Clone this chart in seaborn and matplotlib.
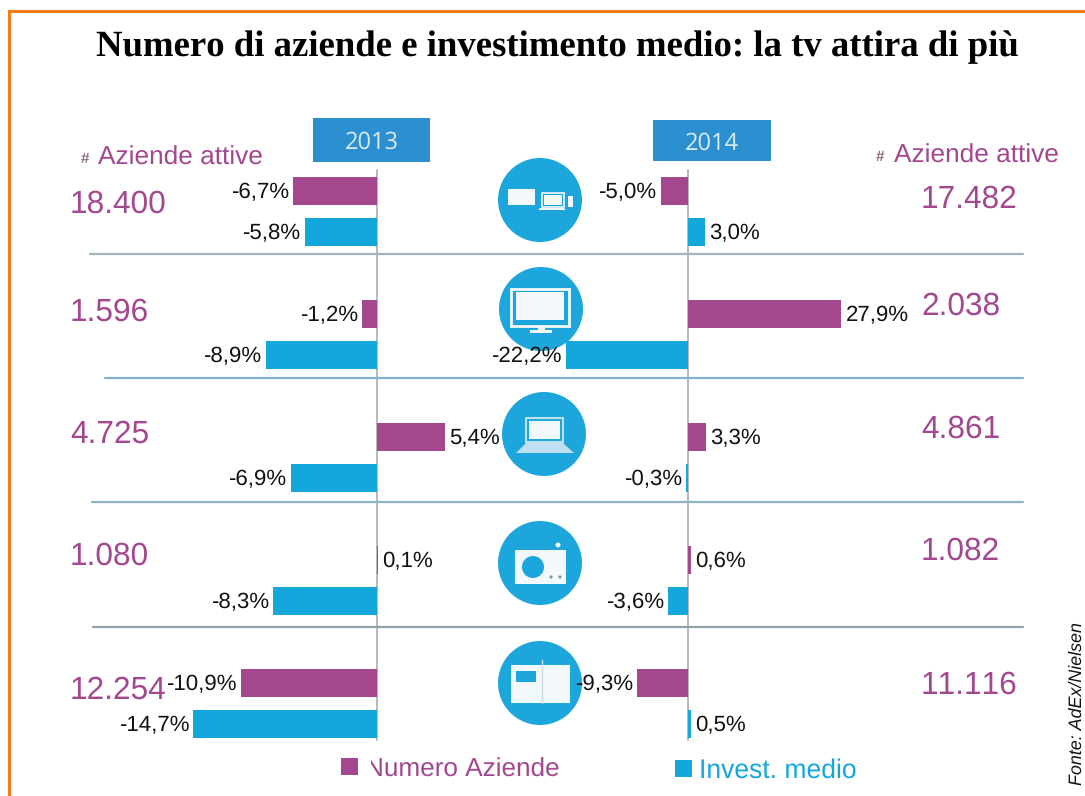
import pandas as pd
import seaborn as sns
from matplotlib import pyplot as plt
from matplotlib.patches import Circle, Rectangle, Polygon

# data
mezzi = ['Internet', 'Tv', 'Pc', 'Radio', 'Stampa']
numero_2013 = [-6.7, -1.2, 5.4, 0.1, -10.9]
invest_2013 = [-5.8, -8.9, -6.9, -8.3, -14.7]
numero_2014 = [-5.0, 27.9, 3.3, 0.6, -9.3]
invest_2014 = [3.0, -22.2, -0.3, -3.6, 0.5]
aziende_2013 = ['18.400', '1.596', '4.725', '1.080', '12.254']
aziende_2014 = ['17.482', '2.038', '4.861', '1.082', '11.116']
serie = ['Numero Aziende', 'Invest. medio']

W, H = 1085, 796
PURPLE = '#A3478F'
CYAN = '#14A7DC'
ICON = '#1CA6DC'
BOX = '#2B8FD0'

sns.set_theme(style='white')
plt.rcParams['font.family'] = ['Liberation Sans', 'DejaVu Sans']
plt.rcParams['text.hinting'] = 'no_hinting'
# "11" gets pulled together otherwise
plt.rcParams['text.kerning_factor'] = 10

fig = plt.figure(figsize=(W / 100, H / 100), dpi=100, facecolor='white')


def px_axes(x0, x1, y0, y1, **kw):
    return fig.add_axes([x0 / W, 1 - y1 / H, (x1 - x0) / W, (y1 - y0) / H], **kw)


# overlay in pixel coords for everything around the bars
bg = px_axes(0, W, 0, H)
bg.set_xlim(0, W)
bg.set_ylim(H, 0)
bg.axis('off')


def bar_panel(numero, invest, zero, scale, x0, x1):
    ax = px_axes(x0, x1, 170, 740, facecolor='none')
    df = pd.DataFrame({
        'mezzo': mezzi * 2,
        'serie': [serie[0]] * 5 + [serie[1]] * 5,
        'valore': numero + invest,
    })
    sns.barplot(data=df, x='valore', y='mezzo', hue='serie', order=mezzi, hue_order=serie,
                palette=[PURPLE, CYAN], saturation=1, orient='h', width=0.667, gap=0.34,
                linewidth=0, legend=False, ax=ax)
    ax.set_xlim((x0 - zero) / scale, (x1 - zero) / scale)
    ax.set_ylim((740 - 211.5) / 123, (170 - 211.5) / 123)
    ax.axis('off')
    for cont in ax.containers:
        labels = [f'{b.get_width():.1f}%'.replace('.', ',') for b in cont]
        anns = ax.bar_label(cont, labels=labels, padding=3, fontsize=16, color='#111111')
        for ann in anns:
            ann.xyann = (ann.xyann[0], -1.2)
    bg.plot([zero, zero], [170, 740], color='#A9ADB2', lw=1.2, zorder=1)
    return ax


ax_2013 = bar_panel(numero_2013, invest_2013, 377, 12.5, 120, 480)
ax_2014 = bar_panel(numero_2014, invest_2014, 688, 5.5, 480, 900)

# orange frame
bg.plot([9, 9, W], [H, 11, 11], color='#F47B16', lw=2.2, solid_joinstyle='miter')

bg.text(557, 47.5, 'Numero di aziende e investimento medio: la tv attira di più', ha='center', va='center',
        family='Liberation Serif', fontweight='bold', fontsize=26.5, color='black')

# separators
for y, x0, col in [(254, 90, '#9DB4BE'), (378, 105, '#7FB4CC'), (502, 92, '#8FB6C4'), (627, 93, '#8FA3AB')]:
    bg.plot([x0, 1023], [y, y], color=col, lw=1.6, zorder=1)

# year boxes
for x0, y0, w, h, txt in [(313, 118, 117, 44, '2013'), (653, 120, 118, 41, '2014')]:
    bg.add_patch(Rectangle((x0, y0), w, h, color=BOX, lw=0))
    bg.text(x0 + w / 2, y0 + h / 2 + 3, txt, ha='center', va='center', color='#D9EAF5', fontsize=17,
            family='Open Sans')

# aziende attive
for x_hash, x_txt, y in [(81, 98, 158), (876, 894, 156)]:
    bg.text(x_hash, y + 1, '#', color='#8A6A85', fontsize=11, va='center', fontweight='bold')
    bg.text(x_txt, y, 'Aziende attive', color=PURPLE, fontsize=18.9, va='center')
for txt, y in zip(aziende_2013, [204, 312, 434, 556, 690]):
    bg.text(70, y, txt, color=PURPLE, fontsize=22.8, va='center')
for txt, y in zip(aziende_2014, [199, 306, 429, 551, 685]):
    bg.text(921, y, txt, color=PURPLE, fontsize=22.8, va='center')

# icons
for cx, cy in [(540, 200), (541, 309), (544, 434), (540, 563), (540, 683)]:
    bg.add_patch(Circle((cx, cy), 42, color=ICON, lw=0, zorder=2))
W_ICON = '#F3F8FB'
z = 3
# devices
bg.add_patch(Rectangle((508, 189), 27, 16, color=W_ICON, lw=0, zorder=z))
bg.add_patch(Rectangle((542, 193), 22, 14, fc='none', ec=W_ICON, lw=1.2, zorder=z))
bg.add_patch(Rectangle((544, 195), 18, 10, color=W_ICON, lw=0, zorder=z))
bg.add_patch(Polygon([[540, 208], [564, 208], [566, 210], [538, 210]], color=W_ICON, lw=0, zorder=z))
bg.add_patch(Rectangle((568, 196), 5, 11, color=W_ICON, lw=0, zorder=z))
# tv
bg.add_patch(Rectangle((511, 289), 58, 37, fc='none', ec=W_ICON, lw=2, zorder=z))
bg.add_patch(Rectangle((516, 292), 48, 28, color=W_ICON, lw=0, zorder=z))
bg.add_patch(Rectangle((538, 327), 7, 3, color=W_ICON, lw=0, zorder=z))
bg.add_patch(Rectangle((530, 330), 22, 2.5, color=W_ICON, lw=0, zorder=z))
# laptop
bg.add_patch(Rectangle((526, 418), 37, 24, fc='none', ec='#BFE0F0', lw=1.5, zorder=z))
bg.add_patch(Rectangle((529, 421), 31, 18, color=W_ICON, lw=0, zorder=z))
bg.add_patch(Polygon([[526, 443], [563, 443], [574, 453], [516, 453]], fc='#BFE0F0', lw=0, zorder=z))
# radio
bg.add_patch(Rectangle((515, 550), 51, 34, color=W_ICON, lw=0, zorder=z))
bg.add_patch(Circle((533, 567), 11, color=ICON, lw=0, zorder=z + 1))
bg.add_patch(Circle((558, 545), 2.5, color=W_ICON, lw=0, zorder=z))
for x in [551, 560]:
    bg.add_patch(Circle((x, 577), 1.6, color='#7B99AA', lw=0, zorder=z + 1))
# book
bg.add_patch(Rectangle((511, 665), 59, 38, color=W_ICON, lw=0, zorder=z))
bg.add_patch(Rectangle((516, 671), 20, 11, color=ICON, lw=0, zorder=z + 1))
bg.plot([542, 542], [660, 703], color='#C9DCE5', lw=1, zorder=z + 1)

# legend
bg.add_patch(Rectangle((341, 758), 17, 17, color=PURPLE, lw=0))
bg.text(365, 770, serie[0], color=PURPLE, fontsize=18.8, va='center')
bg.add_patch(Rectangle((360, 755), 11, 26, color='white', lw=0, zorder=5))
bg.add_patch(Rectangle((675, 760), 17, 17, color=CYAN, lw=0))
bg.text(699, 771, serie[1], color=CYAN, fontsize=19.1, va='center')

bg.text(1077, 785, 'Fonte: AdEx/Nielsen', rotation=90, style='italic', fontsize=12.9, color='#111111',
        ha='center', va='bottom')

fig.savefig('out.png', dpi=100)
